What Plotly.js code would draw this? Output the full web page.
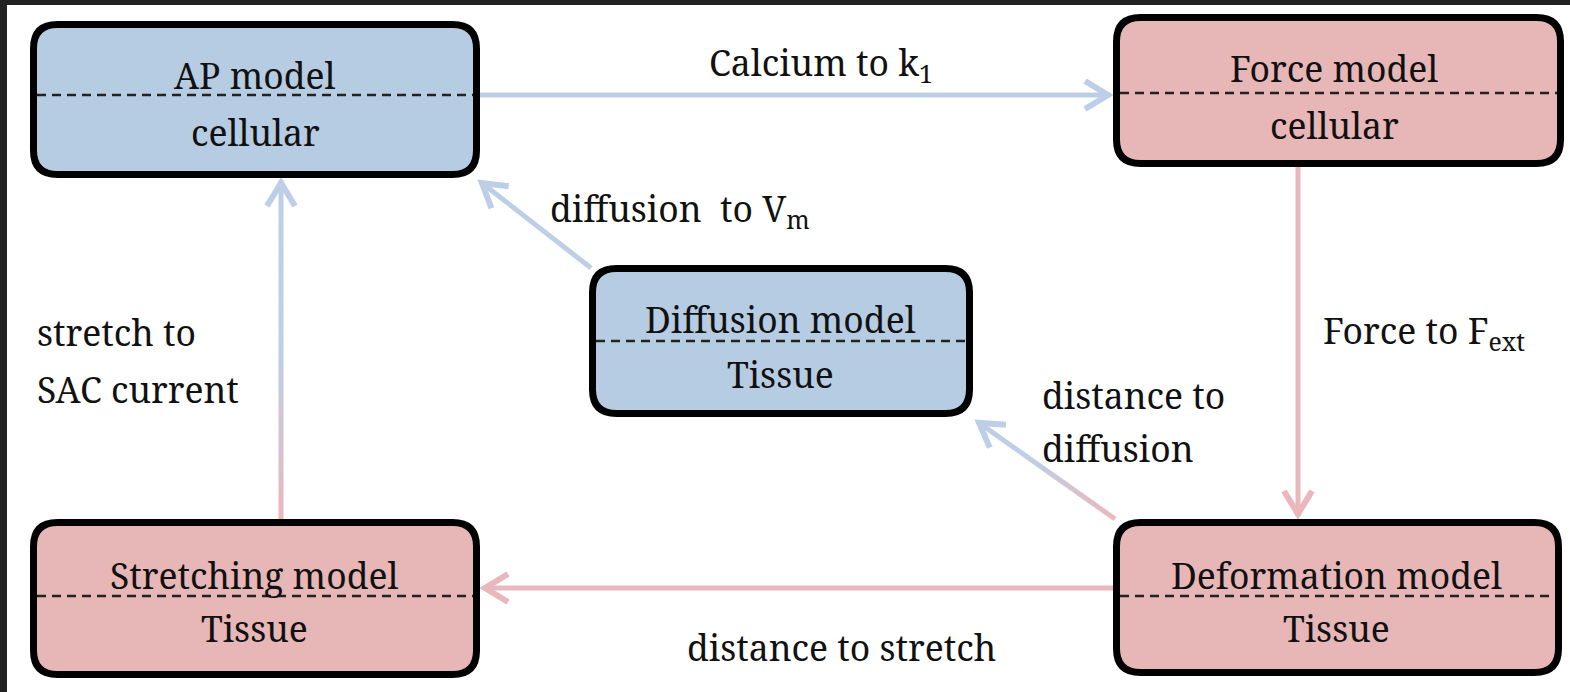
<!DOCTYPE html>
<html>
<head>
<meta charset="utf-8">
<script src="https://cdn.plot.ly/plotly-3.0.1.min.js"></script>
<style>html,body{margin:0;padding:0;background:#fff;}#chart{width:1570px;height:692px;}</style>
</head>
<body>
<div id="chart"></div>
<script>
// ---- content (data) ----
const nodeTitles = ["AP model", "Force model", "Diffusion model", "Stretching model", "Deformation model"];
const nodeScales = ["cellular", "cellular", "Tissue", "Tissue", "Tissue"];
const nodeGroups = ["electro", "mechano", "electro", "mechano", "mechano"];
const edgeFrom = [0, 1, 4, 3, 2, 4];
const edgeTo   = [1, 4, 3, 0, 0, 2];
const edgeLabels = [
  "Calcium to k<sub>1</sub>",
  "Force to F<sub>ext</sub>",
  "distance to stretch",
  "stretch to<br>SAC current",
  "diffusion\u00a0 to V<sub>m</sub>",
  "distance to<br>diffusion"
];

// ---- layout / styling (pixel geometry) ----
const W = 1570, H = 692;
// outer box edges [x0, y0, x1, y1, dashY]
const boxGeom = [
  [30, 21, 480, 178, 95],
  [1113, 14, 1564, 167, 93],
  [589, 265, 973, 417, 341],
  [30, 519, 480, 678, 596],
  [1113, 519, 1562, 676, 596]
];
// text centres: [x, titleY, scaleY]
const boxText = [
  [255, 75, 132],
  [1334, 68, 125],
  [780, 319, 374],
  [254, 575, 628],
  [1336, 575, 628]
];
// arrows: tail, tip, gradient (pink tail -> blue head)
const edgeGeom = [
  {tail: [480, 95],   tip: [1113, 95],  grad: null},
  {tail: [1298, 167], tip: [1298, 519], grad: null},
  {tail: [1113, 588], tip: [480, 588],  grad: null},
  {tail: [281, 519],  tip: [281, 178],  grad: 0.5},
  {tail: [591, 268],  tip: [478, 180],  grad: null},
  {tail: [1115, 519], tip: [975, 420],  grad: 0.65}
];
// label placement: x, anchor, first-line centre y, line step
const labelGeom = [
  {x: 821,  anchor: "center", y: 64,  step: 0},
  {x: 1321, anchor: "left",   y: 332, step: 0},
  {x: 841,  anchor: "center", y: 647, step: 0},
  {x: 35,   anchor: "left",   y: 332, step: 57},
  {x: 548,  anchor: "left",   y: 210, step: 0},
  {x: 1040, anchor: "left",   y: 395, step: 53}
];

const fillColors = {electro: "#b6cce2", mechano: "#e7b6b6"};
const PINK = [233, 184, 188], BLUE = [189, 207, 230];
const arrowColor = {electro: "rgb(189,207,230)", mechano: "rgb(233,184,188)"};
const FONT = "Noto Serif, DejaVu Serif";
const FS = 35.5;

const shapes = [];
const annotations = [];

// dark frame edges
shapes.push({type: "rect", xref: "x", yref: "y", x0: 0, x1: W, y0: 0, y1: 5, fillcolor: "#222", line: {width: 0}, layer: "above"});
shapes.push({type: "rect", xref: "x", yref: "y", x0: 0, x1: 7, y0: 0, y1: H, fillcolor: "#222", line: {width: 0}, layer: "above"});

function mix(t) {
  const c = PINK.map((p, i) => Math.round(p * (1 - t) + BLUE[i] * t));
  return "rgb(" + c.join(",") + ")";
}

// arrows
edgeFrom.forEach((f, i) => {
  const g = edgeGeom[i];
  const group = nodeGroups[f];
  const [tx, ty] = g.tail, [hx, hy] = g.tip;
  const dx = hx - tx, dy = hy - ty;
  const L = Math.hypot(dx, dy);
  const ux = dx / L, uy = dy / L;
  const nx = -uy, ny = ux;
  const endX = hx - ux * 3, endY = hy - uy * 3;
  if (g.grad) {
    const N = 30;
    for (let k = 0; k < N; k++) {
      const a = k / N, b = (k + 1) / N;
      const t = Math.min(1, ((a + b) / 2) / g.grad);
      shapes.push({type: "line", xref: "x", yref: "y",
        x0: tx + (endX - tx) * a, y0: ty + (endY - ty) * a,
        x1: tx + (endX - tx) * (b + 0.002), y1: ty + (endY - ty) * (b + 0.002),
        line: {color: mix(t), width: 5}});
    }
  } else {
    shapes.push({type: "line", xref: "x", yref: "y", x0: tx, y0: ty, x1: endX, y1: endY,
      line: {color: arrowColor[group], width: 5}});
  }
  const headCol = g.grad ? mix(1) : arrowColor[group];
  const px = hx - ux * 5, py = hy - uy * 5;
  const back = 23, lat = 14;
  const a1x = px - ux * back + nx * lat, a1y = py - uy * back + ny * lat;
  const a2x = px - ux * back - nx * lat, a2y = py - uy * back - ny * lat;
  shapes.push({type: "path", xref: "x", yref: "y",
    path: `M${a1x},${a1y} L${px},${py} L${a2x},${a2y}`,
    line: {color: headCol, width: 6}});

  // labels
  const lg = labelGeom[i];
  edgeLabels[i].split("<br>").forEach((line, j) => {
    annotations.push({xref: "x", yref: "y", x: lg.x, y: lg.y + j * lg.step,
      text: line, showarrow: false, xanchor: lg.anchor, yanchor: "middle",
      font: {family: FONT, size: FS, color: "#111"}});
  });
});

// boxes
nodeTitles.forEach((title, i) => {
  const [ox0, oy0, ox1, oy1, dY] = boxGeom[i];
  const bw = 7, h = bw / 2, r = 24;
  const x0 = ox0 + h, y0 = oy0 + h, x1 = ox1 - h, y1 = oy1 - h;
  const p = `M${x0 + r},${y0} L${x1 - r},${y0} Q${x1},${y0} ${x1},${y0 + r} L${x1},${y1 - r} Q${x1},${y1} ${x1 - r},${y1} L${x0 + r},${y1} Q${x0},${y1} ${x0},${y1 - r} L${x0},${y0 + r} Q${x0},${y0} ${x0 + r},${y0} Z`;
  shapes.push({type: "path", xref: "x", yref: "y", path: p,
    fillcolor: fillColors[nodeGroups[i]], line: {color: "#000", width: bw}});
  shapes.push({type: "line", xref: "x", yref: "y", x0: x0 + h, x1: x1 - h, y0: dY, y1: dY,
    line: {color: "#222", width: 2.5, dash: "9px,6px"}});
  const [cx, tY, sY] = boxText[i];
  annotations.push({xref: "x", yref: "y", x: cx, y: tY, text: title, showarrow: false,
    xanchor: "center", yanchor: "middle", font: {family: FONT, size: FS, color: "#111"}});
  annotations.push({xref: "x", yref: "y", x: cx, y: sY, text: nodeScales[i], showarrow: false,
    xanchor: "center", yanchor: "middle", font: {family: FONT, size: FS, color: "#111"}});
});

const layout = {
  width: W, height: H,
  margin: {l: 0, r: 0, t: 0, b: 0, pad: 0},
  paper_bgcolor: "#fff", plot_bgcolor: "#fff",
  font: {family: FONT},
  xaxis: {range: [0, W], visible: false, fixedrange: true},
  yaxis: {range: [H, 0], visible: false, fixedrange: true},
  showlegend: false,
  shapes: shapes,
  annotations: annotations
};

Plotly.newPlot("chart", [], layout, {displayModeBar: false, staticPlot: true});
</script>
</body>
</html>
